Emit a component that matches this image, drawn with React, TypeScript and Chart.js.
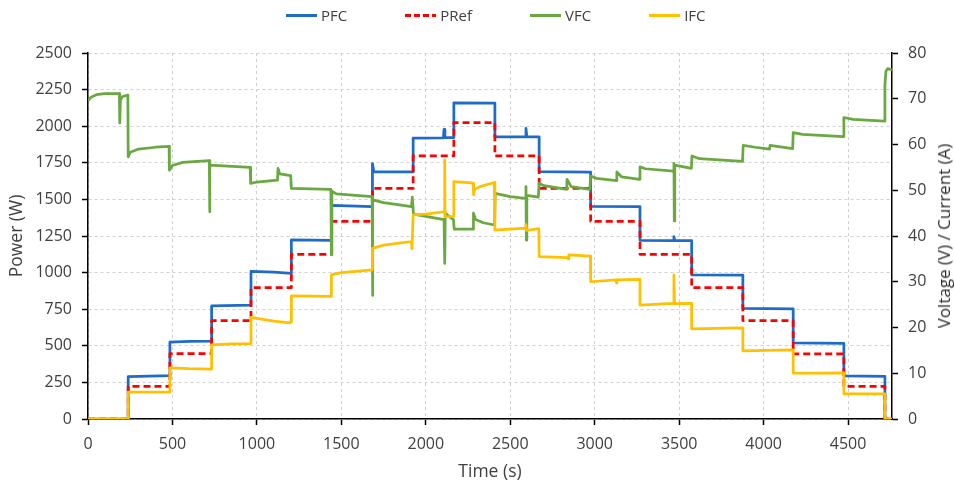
import React, { useEffect, useRef } from "react";
import { Chart, registerables } from "chart.js";

Chart.register(...registerables);

// ---- Data (time in s) ----
const pfcTime = [0,238,238,485,485,600,732,732,965,965,1100,1204,1204,1441,1441,1684,1684,1692,1925,1925,2104,2108,2113,2166,2166,2409,2409,2589,2593,2598,2671,2671,2976,2976,3268,3268,3465,3469,3474,3574,3574,3877,3877,4175,4175,4475,4475,4718,4718,4760];
const pfcPower = [0,0,290,296,525,530,532,772,778,1008,1003,995,1223,1220,1460,1450,1745,1690,1688,1918,1920,1978,1922,1922,2160,2157,1927,1927,1985,1928,1927,1690,1686,1452,1450,1220,1218,1245,1219,1218,985,983,756,753,520,517,295,292,0,0];

const prefTime = [0,238,238,485,485,732,732,965,965,1204,1204,1441,1441,1684,1684,1925,1925,2166,2166,2409,2409,2671,2671,2976,2976,3268,3268,3574,3574,3877,3877,4175,4175,4475,4475,4718,4718,4760];
const prefPower = [0,0,222,222,447,447,672,672,897,897,1125,1125,1350,1350,1575,1575,1798,1798,2025,2025,1798,1798,1575,1575,1350,1350,1125,1125,897,897,672,672,445,445,222,222,0,0];

const vfcTime = [0,20,50,100,186,188,192,205,236,238,250,300,400,480,482,500,560,718,720,722,960,963,1000,1122,1125,1135,1200,1204,1438,1441,1444,1470,1682,1684,1687,1750,1915,1920,1927,2000,2108,2112,2115,2140,2164,2168,2280,2282,2295,2340,2407,2411,2500,2590,2593,2595,2598,2666,2671,2700,2834,2836,2860,2971,2976,3010,3128,3131,3160,3266,3268,3300,3466,3469,3471,3474,3572,3576,3620,3875,3879,3950,4035,4038,4100,4172,4175,4230,4472,4475,4530,4714,4718,4724,4735,4760];
const vfcVolt = [69.6,70.4,70.9,71.1,71.1,64.7,69.8,70.5,70.8,57.3,58.3,59.0,59.4,59.6,54.4,55.4,56.1,56.5,45.3,55.5,55.0,51.5,51.8,52.2,54.8,53.6,53.2,50.4,50.2,35.9,49.8,49.2,48.6,27.0,47.9,47.3,46.4,48.5,44.8,44.3,43.6,34.0,45.0,44.2,43.6,41.5,41.5,45.0,43.6,42.9,42.4,49.3,48.6,48.2,50.8,39.1,48.9,48.5,51.5,51.0,50.2,52.4,50.8,50.2,53.1,52.6,52.1,54.0,52.9,52.4,55.1,54.7,54.2,55.9,43.3,55.5,54.8,57.5,56.9,56.3,59.8,59.4,59.0,59.8,59.5,59.1,62.6,62.2,61.7,65.9,65.5,65.1,73.0,76.0,76.6,76.3];

const ifcTime = [0,238,238,485,485,600,732,732,850,965,965,1100,1195,1204,1204,1441,1441,1500,1684,1684,1750,1915,1918,1925,2000,2110,2112,2114,2164,2166,2270,2280,2283,2290,2320,2405,2409,2590,2593,2597,2669,2671,2840,2843,2847,2974,2976,3126,3130,3134,3268,3268,3466,3469,3472,3574,3574,3877,3877,4175,4175,4475,4475,4718,4718,4760];
const ifcCurrent = [0,0,5.9,5.9,11.2,11.0,10.9,16.2,16.4,16.5,22.2,21.4,21.0,21.2,26.9,26.8,31.5,32.0,32.6,37.3,38.0,38.8,37.2,44.6,44.8,45.3,56.6,44.2,44.3,51.9,51.6,51.5,49.0,50.2,50.8,51.7,41.3,41.7,42.5,41.2,41.6,35.5,35.3,35.0,35.9,35.6,30.0,30.4,29.7,30.4,30.5,24.9,25.3,31.5,25.2,25.3,19.7,19.9,14.9,15.1,10.0,10.1,5.5,5.5,0,0];

const seriesNames = ["PFC", "PRef", "VFC", "IFC"];
const seriesColors = ["#1F6BC8", "#FF0000", "#6AA842", "#FFC000"];

// ---- Axes ----
const xMin = 0, xMax = 4760;
const xTickValues = [0, 500, 1000, 1500, 2000, 2500, 3000, 3500, 4000, 4500];
const powerTickValues = [0, 250, 500, 750, 1000, 1250, 1500, 1750, 2000, 2250, 2500];
const voltTickValues = [0, 10, 20, 30, 40, 50, 60, 70, 80];

const xTitle = "Time (s)";
const leftTitle = "Power (W)";
const rightTitle = "Voltage (V) / Current (A)";

const toPts = (t: number[], v: number[]) => t.map((x, i) => ({ x, y: v[i] }));
const setTicks = (vals: number[]) => (s: any) => { s.ticks = vals.map((value) => ({ value })); };

const FONT = "'Open Sans', sans-serif";
const TEXT = "#404040";

export default function App() {
  const ref = useRef<HTMLCanvasElement>(null);
  useEffect(() => {
    document.body.style.margin = "0";
    const font = { family: FONT, size: 16 };
    const titleFont = { family: FONT, size: 17.5 };
    const gridColor = "#d0d0d0";
    const plain = (v: any) => String(v);
    const lw = 2.75;
    const chart = new Chart(ref.current!, {
      type: "line",
      data: {
        datasets: [
          { label: seriesNames[0], data: toPts(pfcTime, pfcPower), borderColor: seriesColors[0], borderWidth: lw, yAxisID: "y", order: 3 },
          { label: seriesNames[1], data: toPts(prefTime, prefPower), borderColor: seriesColors[1], borderWidth: lw, borderDash: [7, 4], yAxisID: "y", order: 2 },
          { label: seriesNames[2], data: toPts(vfcTime, vfcVolt), borderColor: seriesColors[2], borderWidth: lw, yAxisID: "y1", order: 1 },
          { label: seriesNames[3], data: toPts(ifcTime, ifcCurrent), borderColor: seriesColors[3], borderWidth: lw, yAxisID: "y1", order: 0 },
        ],
      },
      options: {
        animation: false,
        responsive: false,
        devicePixelRatio: 1,
        layout: { padding: { top: 53, left: 0, right: 0, bottom: 0 } },
        elements: { point: { radius: 0 }, line: { tension: 0, borderJoinStyle: "round", borderCapStyle: "butt" } },
        plugins: { legend: { display: false }, tooltip: { enabled: false } },
        scales: {
          x: {
            type: "linear",
            min: xMin,
            max: xMax,
            afterBuildTicks: setTicks(xTickValues),
            afterFit: (s: any) => { s.height = 65; },
            ticks: { color: TEXT, font, padding: 10, maxRotation: 0, autoSkip: false, callback: plain },
            grid: { color: gridColor, lineWidth: 1, tickLength: 6, tickColor: "#000", tickWidth: 1.5 },
            border: { color: "#000", width: 1.5, dash: [3, 3] },
            title: { display: true, text: xTitle, color: TEXT, font: titleFont, padding: { top: 0, bottom: 1 } },
          },
          y: {
            type: "linear",
            position: "left",
            min: powerTickValues[0],
            max: powerTickValues[powerTickValues.length - 1],
            afterBuildTicks: setTicks(powerTickValues),
            afterFit: (s: any) => { s.width = 88; },
            ticks: { color: TEXT, font, padding: 10, autoSkip: false, callback: plain },
            grid: { color: gridColor, lineWidth: 1, tickLength: 6, tickColor: "#000", tickWidth: 1.5 },
            border: { color: "#000", width: 1.5, dash: [3, 3] },
            title: { display: true, text: leftTitle, color: TEXT, font: titleFont, padding: { top: 7, bottom: 0 } },
          },
          y1: {
            type: "linear",
            position: "right",
            min: voltTickValues[0],
            max: voltTickValues[voltTickValues.length - 1],
            afterBuildTicks: setTicks(voltTickValues),
            afterFit: (s: any) => { s.width = 62; },
            ticks: { color: TEXT, font, padding: 10, autoSkip: false, callback: plain },
            grid: { drawOnChartArea: false, tickLength: 6, tickColor: "#000", tickWidth: 1.5 },
            border: { color: "#000", width: 1.5 },
            title: { display: false },
          },
        },
      },
    });
    return () => chart.destroy();
  }, []);

  const legendSample = (i: number) =>
    i === 1
      ? { width: 31, height: 3, background: `repeating-linear-gradient(90deg, ${seriesColors[i]} 0 6px, transparent 6px 9px)` }
      : { width: 31, height: 3, background: seriesColors[i] };

  return (
    <div style={{ position: "relative", width: 954, height: 484, overflow: "hidden", fontFamily: FONT, color: TEXT }}>
      <canvas ref={ref} width={954} height={484} style={{ display: "block" }} />
      <div style={{ position: "absolute", left: 286, top: 4, height: 22, display: "flex", alignItems: "center", gap: 58, fontSize: 15 }}>
        {seriesNames.map((n, i) => (
          <div key={n} style={{ display: "flex", alignItems: "center", gap: 4 }}>
            <div style={legendSample(i)} />
            <span>{n}</span>
          </div>
        ))}
      </div>
      <div
        style={{
          position: "absolute",
          left: 944,
          top: 236,
          transform: "translate(-50%, -50%) rotate(-90deg)",
          whiteSpace: "nowrap",
          fontSize: 17,
          lineHeight: "20px",
          color: "#2e2e2e",
        }}
      >
        {rightTitle}
      </div>
    </div>
  );
}
